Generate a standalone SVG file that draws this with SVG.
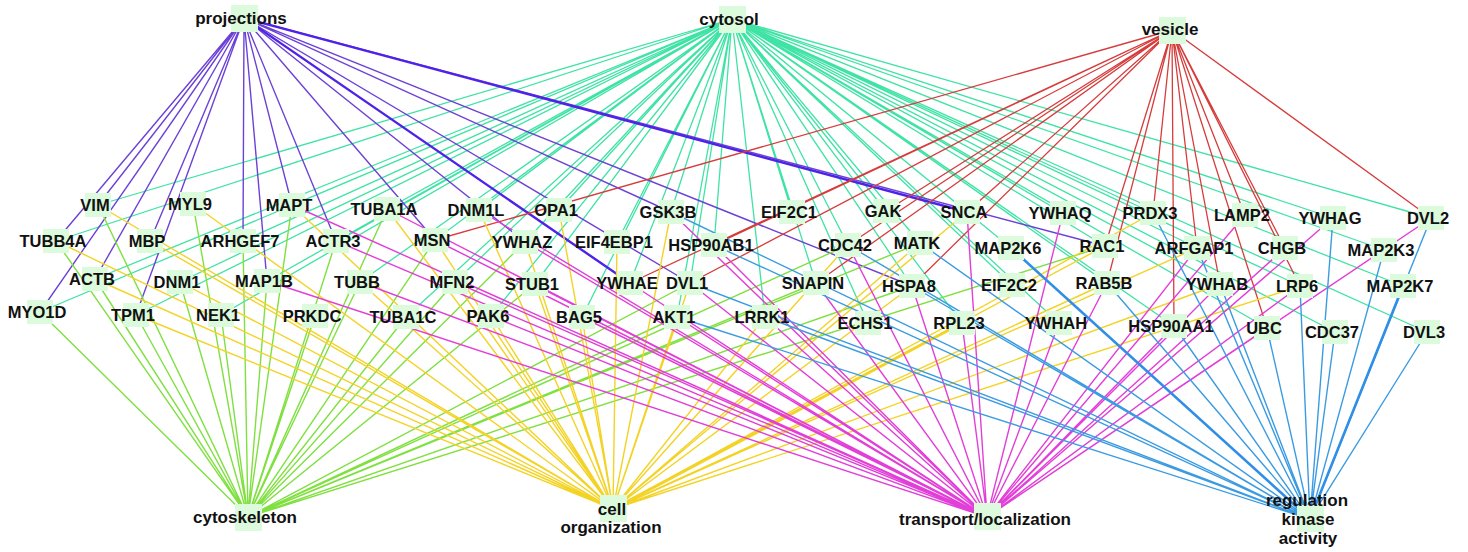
<svg xmlns="http://www.w3.org/2000/svg" width="1468" height="552" viewBox="0 0 1468 552">
<style>
.e{fill:none;stroke-linecap:round}
.c{stroke:#3fe3a5;stroke-width:1.3}
.p{stroke:#6c42d6;stroke-width:1.4}
.pt{stroke:#4f22e8;stroke-width:2.4}
.v{stroke:#d63c3c;stroke-width:1.3}
.k{stroke:#7fe040;stroke-width:1.4}
.o{stroke:#f3d326;stroke-width:1.4}
.ot{stroke:#f3d326;stroke-width:3}
.t{stroke:#e23ed8;stroke-width:1.4}
.r{stroke:#3b9be2;stroke-width:1.4}
.rt{stroke:#2f8fe6;stroke-width:2.6}
.node rect{fill:#dcfadc}
.node text{font-family:"Liberation Sans",Arial,sans-serif;font-weight:bold;font-size:16.5px;fill:#111;text-anchor:middle}
.hub text{font-size:17px}
</style>
<rect width="1468" height="552" fill="#ffffff"/>
<g id="connectors">
<path class="e c" d="M732 19L98 205M732 19L56 241M732 19L95 279M732 19L40 312M732 19L136 315M732 19L180 282M732 19L221 315M732 19L243 241M732 19L292 205M732 19L267 281M732 19L336 241M732 19L387 209M732 19L360 282M732 19L406 317M732 19L455 282M732 19L479 210M732 19L559 210M732 19L435 240M732 19L525 242M732 19L535 284M732 19L491 316M732 19L671 212M732 19L617 242M732 19L714 245M732 19L630 283M732 19L690 283M732 19L582 317M732 19L677 317M732 19L792 212M732 19L765 317M732 19L816 283M732 19L848 245M732 19L886 211M732 19L868 323M732 19L920 243M732 19L912 286M732 19L967 212M732 19L962 323M732 19L1012 285M732 19L1011 248M732 19L1063 213M732 19L1059 323M732 19L1105 246M732 19L1107 283M732 19L1153 213M732 19L1197 248M732 19L1220 284M732 19L1267 328M732 19L1333 218M732 19L1335 332M732 19L1384 250M732 19L1403 286M732 19L1431 218M732 19L1427 332M732 19L1300 286M732 19L1174 326"/>
<path class="e p" d="M244 18L98 205M244 18L56 241M244 18L40 312M244 18L95 279M244 18L150 241M244 18L136 315M244 18L243 241M244 18L267 281M244 18L292 205M244 18L336 241M244 18L435 240M244 18L525 242M244 18L690 283M244 18L671 212M244 18L912 286M244 18L1105 246"/>
<path class="e pt" d="M244 18L630 283M244 18L967 212"/>
<path class="e v" d="M1172 30L435 240M1172 30L630 283M1172 30L690 283M1172 30L714 245M1172 30L816 283M1172 30L848 245M1172 30L886 211M1172 30L912 286M1172 30L967 212M1172 30L1105 246M1172 30L1107 283M1172 30L1153 213M1172 30L1197 248M1172 30L1174 326M1172 30L1220 284M1172 30L1267 328M1172 30L1245 215M1172 30L1285 248M1172 30L1300 286M1172 30L1431 218"/>
<path class="e k" d="M248 517L40 312M248 517L56 241M248 517L98 205M248 517L95 279M248 517L136 315M248 517L193 204M248 517L180 282M248 517L221 315M248 517L267 281M248 517L292 205M248 517L315 316M248 517L336 241M248 517L360 282M248 517L387 209M248 517L406 317M248 517L435 240M248 517L455 282M248 517L243 241M248 517L525 242M248 517L535 284M248 517L690 283M248 517L677 317M248 517L816 283M248 517L848 245M248 517L920 243M248 517L912 286M248 517L1105 246"/>
<path class="e o" d="M613 509L98 205M613 509L56 241M613 509L95 279M613 509L150 241M613 509L193 204M613 509L292 205M613 509L180 282M613 509L136 315M613 509L360 282M613 509L387 209M613 509L435 240M613 509L479 210M613 509L559 210M613 509L455 282M613 509L525 242M613 509L535 284M613 509L582 317M613 509L617 242M613 509L671 212M613 509L491 316M613 509L690 283M613 509L677 317M613 509L967 212M613 509L912 286M613 509L848 245M613 509L1105 246M613 509L1153 213M613 509L1107 283M613 509L1220 284M613 509L1300 286M613 509L920 243M613 509L765 317M613 509L1197 248"/>
<path class="e ot" d="M613 509L962 323"/>
<path class="e t" d="M987 517L292 205M987 517L267 281M987 517L336 241M987 517L387 209M987 517L435 240M987 517L479 210M987 517L360 282M987 517L455 282M987 517L535 284M987 517L525 242M987 517L630 283M987 517L671 212M987 517L714 245M987 517L677 317M987 517L690 283M987 517L848 245M987 517L967 212M987 517L912 286M987 517L1063 213M987 517L1107 283M987 517L1197 248M987 517L1245 215M987 517L1333 218M987 517L1431 218M987 517L1285 248M987 517L1220 284M987 517L1174 326M987 517L1267 328M987 517L765 317M987 517L962 323M987 517L1059 323M987 517L816 283M987 517L491 316M987 517L582 317M987 517L1300 286"/>
<path class="e r" d="M1310 519L1384 250M1310 519L1431 218M1310 519L1427 332M1310 519L1333 218M1310 519L1335 332M1310 519L1300 286M1310 519L1267 328M1310 519L1220 284M1310 519L1197 248M1310 519L1107 283M1310 519L1153 213M1310 519L912 286M1310 519L848 245M1310 519L671 212M1310 519L677 317M1310 519L765 317M1310 519L690 283M1310 519L714 245M1310 519L920 243M1310 519L1174 326"/>
<path class="e rt" d="M1310 519L1011 248M1310 519L1403 286"/>
</g>
<g id="hubs">
<g id="n-projections" class="node hub"><rect x="231" y="5" width="27" height="27"/><text x="241" y="24">projections</text></g>
<g id="n-cytosol" class="node hub"><rect x="719" y="6" width="27" height="27"/><text x="729" y="25">cytosol</text></g>
<g id="n-vesicle" class="node hub"><rect x="1159" y="17" width="27" height="27"/><text x="1170" y="35">vesicle</text></g>
<g id="n-cytoskeleton" class="node hub"><rect x="235" y="504" width="27" height="27"/><text x="245" y="523">cytoskeleton</text></g>
<g id="n-cellorganization" class="node hub"><rect x="600" y="495" width="27" height="27"/><text x="612" y="515">cell</text><text x="611" y="533">organization</text></g>
<g id="n-transport" class="node hub"><rect x="974" y="503" width="27" height="27"/><text x="985" y="525">transport/localization</text></g>
<g id="n-regulation" class="node hub"><rect x="1297" y="505" width="27" height="27"/><text x="1307" y="506">regulation</text><text x="1308" y="525">kinase</text><text x="1308" y="544">activity</text></g>
</g>
<g id="genes">
<g id="n-VIM" class="node"><rect x="85" y="193" width="26" height="24"/><text x="95" y="211">VIM</text></g>
<g id="n-MYL9" class="node"><rect x="180" y="192" width="26" height="24"/><text x="190" y="210">MYL9</text></g>
<g id="n-MAPT" class="node"><rect x="279" y="193" width="26" height="24"/><text x="289" y="211">MAPT</text></g>
<g id="n-TUBA1A" class="node"><rect x="374" y="197" width="26" height="24"/><text x="384" y="215">TUBA1A</text></g>
<g id="n-DNM1L" class="node"><rect x="466" y="198" width="26" height="24"/><text x="476" y="216">DNM1L</text></g>
<g id="n-OPA1" class="node"><rect x="546" y="198" width="26" height="24"/><text x="556" y="216">OPA1</text></g>
<g id="n-GSK3B" class="node"><rect x="658" y="200" width="26" height="24"/><text x="668" y="218">GSK3B</text></g>
<g id="n-EIF2C1" class="node"><rect x="779" y="200" width="26" height="24"/><text x="789" y="218">EIF2C1</text></g>
<g id="n-GAK" class="node"><rect x="873" y="199" width="26" height="24"/><text x="883" y="217">GAK</text></g>
<g id="n-SNCA" class="node"><rect x="954" y="200" width="26" height="24"/><text x="964" y="218">SNCA</text></g>
<g id="n-YWHAQ" class="node"><rect x="1050" y="201" width="26" height="24"/><text x="1060" y="219">YWHAQ</text></g>
<g id="n-PRDX3" class="node"><rect x="1140" y="201" width="26" height="24"/><text x="1150" y="219">PRDX3</text></g>
<g id="n-LAMP2" class="node"><rect x="1232" y="203" width="26" height="24"/><text x="1242" y="221">LAMP2</text></g>
<g id="n-YWHAG" class="node"><rect x="1320" y="206" width="26" height="24"/><text x="1330" y="224">YWHAG</text></g>
<g id="n-DVL2" class="node"><rect x="1418" y="206" width="26" height="24"/><text x="1428" y="224">DVL2</text></g>
<g id="n-TUBB4A" class="node"><rect x="43" y="229" width="26" height="24"/><text x="53" y="247">TUBB4A</text></g>
<g id="n-MBP" class="node"><rect x="137" y="229" width="26" height="24"/><text x="147" y="247">MBP</text></g>
<g id="n-ARHGEF7" class="node"><rect x="230" y="229" width="26" height="24"/><text x="240" y="247">ARHGEF7</text></g>
<g id="n-ACTR3" class="node"><rect x="323" y="229" width="26" height="24"/><text x="333" y="247">ACTR3</text></g>
<g id="n-MSN" class="node"><rect x="422" y="228" width="26" height="24"/><text x="432" y="246">MSN</text></g>
<g id="n-YWHAZ" class="node"><rect x="512" y="230" width="26" height="24"/><text x="522" y="248">YWHAZ</text></g>
<g id="n-EIF4EBP1" class="node"><rect x="604" y="230" width="26" height="24"/><text x="614" y="248">EIF4EBP1</text></g>
<g id="n-HSP90AB1" class="node"><rect x="701" y="233" width="26" height="24"/><text x="711" y="251">HSP90AB1</text></g>
<g id="n-CDC42" class="node"><rect x="835" y="233" width="26" height="24"/><text x="845" y="251">CDC42</text></g>
<g id="n-MATK" class="node"><rect x="907" y="231" width="26" height="24"/><text x="917" y="249">MATK</text></g>
<g id="n-MAP2K6" class="node"><rect x="998" y="236" width="26" height="24"/><text x="1008" y="254">MAP2K6</text></g>
<g id="n-RAC1" class="node"><rect x="1092" y="234" width="26" height="24"/><text x="1102" y="252">RAC1</text></g>
<g id="n-ARFGAP1" class="node"><rect x="1184" y="236" width="26" height="24"/><text x="1194" y="254">ARFGAP1</text></g>
<g id="n-CHGB" class="node"><rect x="1272" y="236" width="26" height="24"/><text x="1282" y="254">CHGB</text></g>
<g id="n-MAP2K3" class="node"><rect x="1371" y="238" width="26" height="24"/><text x="1381" y="256">MAP2K3</text></g>
<g id="n-ACTB" class="node"><rect x="82" y="267" width="26" height="24"/><text x="92" y="285">ACTB</text></g>
<g id="n-DNM1" class="node"><rect x="167" y="270" width="26" height="24"/><text x="177" y="288">DNM1</text></g>
<g id="n-MAP1B" class="node"><rect x="254" y="269" width="26" height="24"/><text x="264" y="287">MAP1B</text></g>
<g id="n-TUBB" class="node"><rect x="347" y="270" width="26" height="24"/><text x="357" y="288">TUBB</text></g>
<g id="n-MFN2" class="node"><rect x="442" y="270" width="26" height="24"/><text x="452" y="288">MFN2</text></g>
<g id="n-STUB1" class="node"><rect x="522" y="272" width="26" height="24"/><text x="532" y="290">STUB1</text></g>
<g id="n-YWHAE" class="node"><rect x="617" y="271" width="26" height="24"/><text x="627" y="289">YWHAE</text></g>
<g id="n-DVL1" class="node"><rect x="677" y="271" width="26" height="24"/><text x="687" y="289">DVL1</text></g>
<g id="n-SNAPIN" class="node"><rect x="803" y="271" width="26" height="24"/><text x="813" y="289">SNAPIN</text></g>
<g id="n-HSPA8" class="node"><rect x="899" y="274" width="26" height="24"/><text x="909" y="292">HSPA8</text></g>
<g id="n-EIF2C2" class="node"><rect x="999" y="273" width="26" height="24"/><text x="1009" y="291">EIF2C2</text></g>
<g id="n-RAB5B" class="node"><rect x="1094" y="271" width="26" height="24"/><text x="1104" y="289">RAB5B</text></g>
<g id="n-YWHAB" class="node"><rect x="1207" y="272" width="26" height="24"/><text x="1217" y="290">YWHAB</text></g>
<g id="n-LRP6" class="node"><rect x="1287" y="274" width="26" height="24"/><text x="1297" y="292">LRP6</text></g>
<g id="n-MAP2K7" class="node"><rect x="1390" y="274" width="26" height="24"/><text x="1400" y="292">MAP2K7</text></g>
<g id="n-MYO1D" class="node"><rect x="27" y="300" width="26" height="24"/><text x="37" y="318">MYO1D</text></g>
<g id="n-TPM1" class="node"><rect x="123" y="303" width="26" height="24"/><text x="133" y="321">TPM1</text></g>
<g id="n-NEK1" class="node"><rect x="208" y="303" width="26" height="24"/><text x="218" y="321">NEK1</text></g>
<g id="n-PRKDC" class="node"><rect x="302" y="304" width="26" height="24"/><text x="312" y="322">PRKDC</text></g>
<g id="n-TUBA1C" class="node"><rect x="393" y="305" width="26" height="24"/><text x="403" y="323">TUBA1C</text></g>
<g id="n-PAK6" class="node"><rect x="478" y="304" width="26" height="24"/><text x="488" y="322">PAK6</text></g>
<g id="n-BAG5" class="node"><rect x="569" y="305" width="26" height="24"/><text x="579" y="323">BAG5</text></g>
<g id="n-AKT1" class="node"><rect x="664" y="305" width="26" height="24"/><text x="674" y="323">AKT1</text></g>
<g id="n-LRRK1" class="node"><rect x="752" y="305" width="26" height="24"/><text x="762" y="323">LRRK1</text></g>
<g id="n-ECHS1" class="node"><rect x="855" y="311" width="26" height="24"/><text x="865" y="329">ECHS1</text></g>
<g id="n-RPL23" class="node"><rect x="949" y="311" width="26" height="24"/><text x="959" y="329">RPL23</text></g>
<g id="n-YWHAH" class="node"><rect x="1046" y="311" width="26" height="24"/><text x="1056" y="329">YWHAH</text></g>
<g id="n-HSP90AA1" class="node"><rect x="1161" y="314" width="26" height="24"/><text x="1171" y="332">HSP90AA1</text></g>
<g id="n-UBC" class="node"><rect x="1254" y="316" width="26" height="24"/><text x="1264" y="334">UBC</text></g>
<g id="n-CDC37" class="node"><rect x="1322" y="320" width="26" height="24"/><text x="1332" y="338">CDC37</text></g>
<g id="n-DVL3" class="node"><rect x="1414" y="320" width="26" height="24"/><text x="1424" y="338">DVL3</text></g>
</g>
</svg>
